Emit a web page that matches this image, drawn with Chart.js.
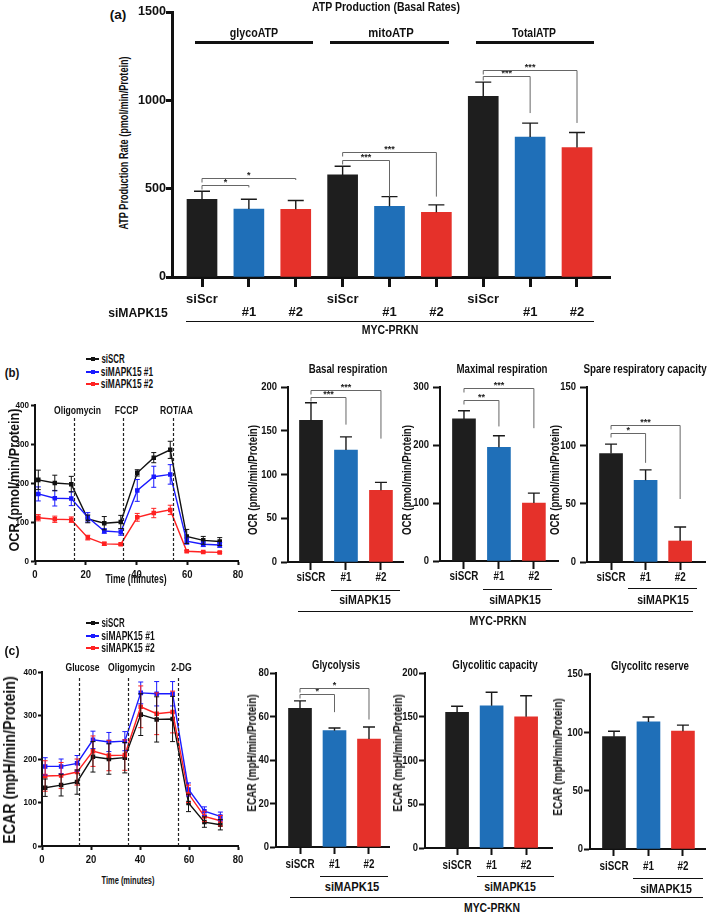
<!DOCTYPE html>
<html>
<head>
<meta charset="utf-8">
<script src="https://cdn.jsdelivr.net/npm/chart.js@4.4.0/dist/chart.umd.min.js"></script>
<style>
  html, body { margin:0; padding:0; background:#fff; }
  #fig { position:relative; width:709px; height:914px; overflow:hidden; color:#111;
         font-family:"Liberation Sans",Arial,sans-serif; }
  #fig canvas { position:absolute; }
  .t { position:absolute; white-space:nowrap; font-weight:bold; line-height:1; }
  .ln { position:absolute; background:#111; }
</style>
</head>
<body>
<div id="fig"></div>
<script>
const FONT = '"Liberation Sans", Arial, sans-serif';

// (a) ATP production, basal rates
const atpGroups = ["glycoATP", "mitoATP", "TotalATP"];
const atpLabels = ["siScr", "#1", "#2", "siScr", "#1", "#2", "siScr", "#1", "#2"];
const atpValues = [440, 385, 383, 578, 400, 366, 1022, 792, 733];
const atpErrors = [45, 55, 50, 49, 55, 42, 81, 79, 85];
const atpTicks = [0, 500, 1000, 1500];
// from, to, bracket level, right leg end, stars
const atpSig = [
  [0, 1, 521, 507, "*"], [0, 2, 563, 549, "*"],
  [3, 4, 661, 455, "***"], [3, 5, 705, 455, "***"],
  [6, 7, 1135, 928, "***"], [6, 8, 1173, 872, "***"]
];

// time course (minutes) shared by OCR and ECAR
const timeMin = [1.3, 7.8, 14.3, 20.8, 27.3, 33.8, 40.3, 46.8, 53.3, 59.8, 66.3, 72.8];
const timeTicks = [0, 20, 40, 60, 80];
const seriesNames = ["siSCR", "siMAPK15 #1", "siMAPK15 #2"];

// (b) OCR
const ocrScr = [208, 200, 197, 108, 97, 100, 226, 265, 285, 63, 53, 50];
const ocrScrErr = [25, 20, 20, 10, 17, 17, 8, 13, 22, 18, 10, 10];
const ocr1 = [172, 161, 160, 112, 77, 74, 181, 216, 222, 51, 43, 41];
const ocr1Err = [18, 20, 18, 12, 6, 8, 28, 27, 25, 8, 6, 6];
const ocr2 = [111, 107, 106, 60, 44, 43, 112, 123, 131, 25, 23, 22];
const ocr2Err = [8, 8, 7, 6, 4, 3, 10, 12, 12, 2, 2, 2];
const ocrInjections = ["Oligomycin", "FCCP", "ROT/AA"];
const ocrInjectAt = [15.3, 34.8, 54.5];

const barLabels = ["siSCR", "#1", "#2"];
const basal = [162, 128, 82];
const basalErr = [20, 15, 9];
const basalSig = [[0, 1, 189, 157, "***"], [0, 2, 197, 141, "***"]];
const maximal = [245, 196, 100];
const maximalErr = [14, 20, 17];
const maximalSig = [[0, 1, 278, 232, "**"], [0, 2, 298, 229, "***"]];
const spare = [93, 70, 18];
const spareErr = [8, 9, 12];
const spareSig = [[0, 1, 111, 85, "*"], [0, 2, 117, 54, "***"]];

// (c) ECAR
const ecarScr = [134, 140, 147, 205, 200, 203, 302, 291, 292, 99, 55, 49];
const ecarScrErr = [20, 25, 28, 35, 35, 35, 48, 52, 52, 20, 12, 12];
const ecar1 = [183, 183, 190, 244, 239, 241, 352, 350, 350, 130, 80, 68];
const ecar1Err = [20, 17, 18, 20, 22, 22, 25, 28, 28, 15, 10, 10];
const ecar2 = [161, 162, 170, 218, 208, 209, 320, 304, 308, 120, 68, 58];
const ecar2Err = [35, 30, 30, 35, 35, 35, 48, 48, 48, 20, 12, 12];
const ecarInjections = ["Glucose", "Oligomycin", "2-DG"];
const ecarInjectAt = [15.3, 35.3, 55.6];

const glycolysis = [63.8, 53.5, 49.6];
const glycolysisErr = [3.4, 1.2, 5.6];
const glycolysisSig = [[0, 1, 70.2, 62, "*"], [0, 2, 73.1, 58.6, "*"]];
const capacity = [155, 162.5, 150];
const capacityErr = [7, 15.5, 24];
const reserve = [96.3, 108.9, 101];
const reserveErr = [4.6, 4.3, 5.2];

const BAR_COLORS = ["#1e1e1e", "#1f6fb8", "#e5312a"];
const LINE_COLORS = ["#111111", "#1a1aff", "#ff2222"];

Chart.defaults.font.family = FONT;
Chart.defaults.color = "#111";
Chart.defaults.animation = false;

const fig = document.getElementById("fig");

// text squeezed/stretched to the width it has in the figure
function txt(s, cx, cy, size, w, rot) {
  const d = document.createElement("div");
  d.className = "t";
  d.textContent = s;
  d.style.fontSize = size + "px";
  fig.appendChild(d);
  const sx = w ? w / d.offsetWidth : 1;
  d.style.left = cx + "px";
  d.style.top = cy + "px";
  d.style.transform = `translate(-50%,-50%) rotate(${rot ? -90 : 0}deg) scaleX(${sx})`;
  return d;
}

function hline(x1, x2, y, w) {
  const d = document.createElement("div");
  d.className = "ln";
  d.style.left = x1 + "px";
  d.style.width = (x2 - x1) + "px";
  d.style.top = (y - w / 2) + "px";
  d.style.height = w + "px";
  fig.appendChild(d);
}

function mkCanvas(r, m) {
  const c = document.createElement("canvas");
  c.width = r.r - r.l + m.l + m.r;
  c.height = r.b - r.t + m.t + m.b;
  c.style.left = (r.l - m.l) + "px";
  c.style.top = (r.t - m.t) + "px";
  fig.appendChild(c);
  return c;
}

function squeeze(ctx, s, x, y, align, sx) {
  ctx.save();
  ctx.translate(x, y);
  ctx.scale(sx, 1);
  ctx.textAlign = align;
  ctx.fillText(s, 0, 0);
  ctx.restore();
}

// error bars, significance brackets, injection markers, tick labels
const marks = {
  id: "marks",
  afterDatasetsDraw(chart, args, o) {
    const { ctx, chartArea: a, scales: { x, y } } = chart;
    ctx.save();

    (o.injections || []).forEach(([t, label]) => {
      const px = Math.round(x.getPixelForValue(t)) + 0.5;
      ctx.strokeStyle = "#222";
      ctx.lineWidth = 1.2;
      ctx.setLineDash([3, 2]);
      ctx.beginPath();
      ctx.moveTo(px, a.bottom);
      ctx.lineTo(px, a.top + (o.injTop || 0));
      ctx.stroke();
      ctx.setLineDash([]);
      ctx.fillStyle = "#111";
      ctx.font = "bold 10px " + FONT;
      ctx.textBaseline = "middle";
      squeeze(ctx, label, px + 3, a.top + (o.labelDy || 0), "center", 0.86);
    });

    chart.data.datasets.forEach(ds => {
      if (!ds.err) return;
      ctx.strokeStyle = o.errColor || ds.borderColor;
      ctx.lineWidth = o.errWidth || 1.2;
      ds.data.forEach((p, i) => {
        const px = x.getPixelForValue(p.x);
        const y0 = o.both ? y.getPixelForValue(p.y - ds.err[i]) : y.getPixelForValue(p.y);
        const y1 = y.getPixelForValue(p.y + ds.err[i]);
        const c = o.cap / 2;
        ctx.beginPath();
        ctx.moveTo(px, y0);
        ctx.lineTo(px, y1);
        ctx.moveTo(px - c, y1);
        ctx.lineTo(px + c, y1);
        if (o.both) {
          ctx.moveTo(px - c, y0);
          ctx.lineTo(px + c, y0);
        }
        ctx.stroke();
      });
    });

    (o.sig || []).forEach(([from, to, level, end, stars]) => {
      const x1 = x.getPixelForValue(from), x2 = x.getPixelForValue(to);
      const py = Math.round(y.getPixelForValue(level)) + 0.5;
      ctx.strokeStyle = "#666";
      ctx.lineWidth = 1;
      ctx.beginPath();
      ctx.moveTo(x1, py + 4);
      ctx.lineTo(x1, py);
      ctx.lineTo(x2, py);
      ctx.lineTo(x2, y.getPixelForValue(end));
      ctx.stroke();
      ctx.fillStyle = "#222";
      ctx.font = "bold 9px " + FONT;
      ctx.textBaseline = "bottom";
      squeeze(ctx, stars, (x1 + x2) / 2, py + 2, "center", 1);
    });

    const tk = o.tickText;
    ctx.fillStyle = "#111";
    ctx.textBaseline = "middle";
    ctx.font = `bold ${tk.ySize}px ${FONT}`;
    y.ticks.forEach(t => squeeze(ctx, String(t.value), a.left - tk.yGap, y.getPixelForValue(t.value), "right", tk.ySx));
    ctx.font = `bold ${tk.xSize}px ${FONT}`;
    x.ticks.forEach(t => {
      tk.xRows(t.value).forEach((s, r) =>
        squeeze(ctx, s, x.getPixelForValue(t.value), a.bottom + tk.xGap + r * (tk.rowH || 0), "center", tk.xSx));
    });
    ctx.restore();
  }
};

function axisStyle(tickLen, width) {
  return {
    grid: { drawOnChartArea: false, tickLength: tickLen, color: "#111", tickWidth: width, offset: false },
    border: { width: width, color: "#111" }
  };
}

function barChart(rect, m, cfg) {
  const cv = mkCanvas(rect, m);
  return new Chart(cv, {
    type: "bar",
    data: {
      datasets: [{
        data: cfg.values.map((v, i) => ({ x: i, y: v })),
        err: cfg.errors,
        backgroundColor: cfg.values.map((v, i) => BAR_COLORS[i % 3]),
        borderWidth: 0,
        barThickness: cfg.barW
      }]
    },
    options: {
      responsive: false,
      devicePixelRatio: 1,
      layout: { padding: { top: m.t, right: m.r, left: 0, bottom: 0 } },
      scales: {
        x: {
          type: "linear", min: cfg.xMin, max: cfg.xMax, offset: false,
          afterFit: s => { s.height = m.b; },
          ticks: { display: false, stepSize: 1, includeBounds: false, autoSkip: false },
          ...axisStyle(cfg.xTick, cfg.axisW)
        },
        y: {
          min: 0, max: cfg.yMax,
          afterFit: s => { s.width = m.l; },
          ticks: { display: false, stepSize: cfg.yStep },
          ...axisStyle(cfg.yTick, cfg.axisW)
        }
      },
      plugins: {
        legend: { display: false },
        tooltip: { enabled: false },
        marks: { sig: cfg.sig, cap: cfg.cap, errColor: "#1a1a1a", errWidth: 1.4, tickText: cfg.tickText }
      }
    },
    plugins: [marks]
  });
}

function lineChart(rect, m, cfg) {
  const cv = mkCanvas(rect, m);
  const order = [1, 2, 0];
  return new Chart(cv, {
    type: "line",
    data: {
      datasets: order.map(k => ({
        label: seriesNames[k],
        data: timeMin.map((t, i) => ({ x: t, y: cfg.series[k][i] })),
        err: cfg.errors[k],
        borderColor: LINE_COLORS[k],
        backgroundColor: LINE_COLORS[k],
        borderWidth: 1.4,
        pointStyle: "rect",
        pointRadius: 2.2,
        tension: 0
      }))
    },
    options: {
      responsive: false,
      devicePixelRatio: 1,
      layout: { padding: { top: m.t, right: m.r, left: 0, bottom: 0 } },
      scales: {
        x: {
          type: "linear", min: 0, max: 80,
          afterFit: s => { s.height = m.b; },
          ticks: { display: false, stepSize: 20 },
          ...axisStyle(4, 2)
        },
        y: {
          min: 0, max: 400,
          afterFit: s => { s.width = m.l; },
          ticks: { display: false, stepSize: 100 },
          ...axisStyle(4, 2)
        }
      },
      plugins: {
        legend: { display: false },
        tooltip: { enabled: false },
        marks: {
          both: true, cap: 5, errWidth: 1,
          injections: cfg.injectAt.map((t, i) => [t, cfg.injections[i]]),
          labelDy: cfg.labelDy, injTop: cfg.injTop,
          tickText: { ySize: 9.5, ySx: 0.85, yGap: cfg.yGap, xSize: 10, xSx: 0.95, xGap: 14, xRows: v => [String(v)] }
        }
      }
    },
    plugins: [marks]
  });
}

function legend(x, ys, widths) {
  ys.forEach((y, k) => {
    const l = document.createElement("div");
    l.className = "ln";
    l.style.cssText = `left:${x}px;top:${y - 0.75}px;width:13px;height:1.5px;background:${LINE_COLORS[k]}`;
    fig.appendChild(l);
    const p = document.createElement("div");
    p.className = "ln";
    p.style.cssText = `left:${x + 4.5}px;top:${y - 2}px;width:4px;height:4px;background:${LINE_COLORS[k]}`;
    fig.appendChild(p);
    txt(seriesNames[k], x + 15 + widths[k] / 2, y, 12, widths[k]);
  });
}

const smallBars = (v) => [barLabels[v] ?? ""];

// ---------- (a) ----------
barChart({ l: 172, t: 12, r: 610, b: 277 }, { l: 40, r: 6, t: 10, b: 45 }, {
  values: atpValues, errors: atpErrors, sig: atpSig,
  xMin: -0.64, xMax: 8.704, yMax: 1500, yStep: 500, axisW: 3,
  xTick: 10, yTick: 6, barW: 30, cap: 16,
  tickText: {
    ySize: 12, ySx: 1.05, yGap: 6, xSize: 13, xSx: 1, xGap: 22, rowH: 13,
    xRows: v => atpLabels[v] === undefined ? [] : (atpLabels[v] === "siScr" ? ["siScr"] : ["", atpLabels[v]])
  }
});
txt("(a)", 118, 15, 12, 17);
txt("ATP Production (Basal Rates)", 386, 7, 12, 148);
[[254, 48, 195, 313], [391, 45, 330, 449], [534, 44, 476, 594]].forEach(([c, w, x1, x2], i) => {
  txt(atpGroups[i], c, 33, 12, w);
  hline(x1, x2, 42, 3);
});
txt("ATP Production Rate (pmol/min/Protein)", 124, 143, 12, 173, true);
txt("siMAPK15", 138, 312, 13, 60);
hline(186, 594, 321, 1);
txt("MYC-PRKN", 390, 330, 12, 57);

// ---------- (b) ----------
txt("(b)", 12, 372, 13, 15);
legend(86, [359, 372, 384], [23, 52, 52]);
lineChart({ l: 35, t: 405, r: 238, b: 561 }, { l: 30, r: 6, t: 8, b: 22 }, {
  series: [ocrScr, ocr1, ocr2], errors: [ocrScrErr, ocr1Err, ocr2Err],
  injections: ocrInjections, injectAt: ocrInjectAt, labelDy: 6, injTop: 12, yGap: 6
});
txt("OCR (pmol/min/Protein)", 13, 480, 15, 143, true);
txt("Time (minutes)", 136, 579, 12, 61);

const bTicks = { ySize: 11.5, ySx: 0.82, yGap: 11, xSize: 12, xSx: 0.82, xGap: 16, xRows: smallBars };
barChart({ l: 288, t: 387, r: 403, b: 562 }, { l: 30, r: 4, t: 14, b: 26 }, {
  values: basal, errors: basalErr, sig: basalSig,
  xMin: -0.657, xMax: 2.63, yMax: 200, yStep: 50,
  axisW: 2, xTick: 8, yTick: 7, barW: 23, cap: 12, tickText: bTicks
});
barChart({ l: 440, t: 387, r: 558, b: 561 }, { l: 30, r: 4, t: 14, b: 26 }, {
  values: maximal, errors: maximalErr, sig: maximalSig,
  xMin: -0.686, xMax: 2.69, yMax: 300, yStep: 100,
  axisW: 2, xTick: 8, yTick: 7, barW: 23, cap: 12, tickText: bTicks
});
barChart({ l: 587, t: 387, r: 705, b: 562 }, { l: 30, r: 4, t: 14, b: 26 }, {
  values: spare, errors: spareErr, sig: spareSig,
  xMin: -0.696, xMax: 2.72, yMax: 150, yStep: 50,
  axisW: 2, xTick: 8, yTick: 7, barW: 23, cap: 12, tickText: bTicks
});
txt("Basal respiration", 348, 368, 13, 79);
txt("Maximal respiration", 502, 368, 13, 91);
txt("Spare respiratory capacity", 645, 368, 13, 123);
txt("OCR (pmol/min/Protein)", 253, 480, 12, 110, true);
txt("OCR (pmol/min/Protein)", 407, 480, 12, 110, true);
txt("OCR (pmol/min/Protein)", 555, 480, 12, 110, true);
hline(331, 400, 590, 1); txt("siMAPK15", 365, 599, 13, 52);
hline(483, 552, 589, 1); txt("siMAPK15", 515, 599, 13, 52);
hline(628, 697, 588, 1); txt("siMAPK15", 663, 599, 13, 52);
hline(298, 693, 611, 1); txt("MYC-PRKN", 498, 620, 13, 57);

// ---------- (c) ----------
txt("(c)", 12, 650, 13, 15);
legend(86, [623, 636, 648], [23, 53, 53]);
lineChart({ l: 42, t: 672, r: 238, b: 846 }, { l: 30, r: 6, t: 12, b: 22 }, {
  series: [ecarScr, ecar1, ecar2], errors: [ecarScrErr, ecar1Err, ecar2Err],
  injections: ecarInjections, injectAt: ecarInjectAt, labelDy: -4, injTop: 4, yGap: 5
});
txt("ECAR (mpH/min/Protein)", 10, 760, 16, 167, true);
txt("Time (minutes)", 128, 880, 11, 53);

const cTicks = { ySize: 11.5, ySx: 0.82, yGap: 7, xSize: 12, xSx: 0.82, xGap: 18, xRows: smallBars };
barChart({ l: 276, t: 673, r: 389, b: 847 }, { l: 30, r: 4, t: 14, b: 26 }, {
  values: glycolysis, errors: glycolysisErr, sig: glycolysisSig,
  xMin: -0.696, xMax: 2.58, yMax: 80, yStep: 20,
  axisW: 2, xTick: 7, yTick: 6, barW: 23, cap: 12, tickText: cTicks
});
barChart({ l: 425, t: 673, r: 552, b: 848 }, { l: 30, r: 4, t: 14, b: 26 }, {
  values: capacity, errors: capacityErr,
  xMin: -0.93, xMax: 2.75, yMax: 200, yStep: 50,
  axisW: 2, xTick: 7, yTick: 6, barW: 23, cap: 12, tickText: cTicks
});
barChart({ l: 590, t: 674, r: 705, b: 849 }, { l: 30, r: 4, t: 14, b: 26 }, {
  values: reserve, errors: reserveErr,
  xMin: -0.696, xMax: 2.64, yMax: 150, yStep: 50,
  axisW: 2, xTick: 7, yTick: 6, barW: 23, cap: 12, tickText: cTicks
});
txt("Glycolysis", 336, 665, 12, 48);
txt("Glycolitic capacity", 495, 665, 12, 85);
txt("Glycolitc reserve", 650, 666, 12, 78);
txt("ECAR (mpH/min/Protein)", 252, 753, 12, 117, true);
txt("ECAR (mpH/min/Protein)", 398, 753, 12, 117, true);
txt("ECAR (mpH/min/Protein)", 558, 757, 12, 117, true);
hline(320, 388, 876, 1); txt("siMAPK15", 352, 886, 13, 55);
hline(477, 554, 876, 1); txt("siMAPK15", 510, 886, 13, 52);
hline(633, 703, 878, 1); txt("siMAPK15", 666, 888, 13, 52);
hline(290, 703, 897, 1); txt("MYC-PRKN", 492, 907, 13, 56);
</script>
</body>
</html>
